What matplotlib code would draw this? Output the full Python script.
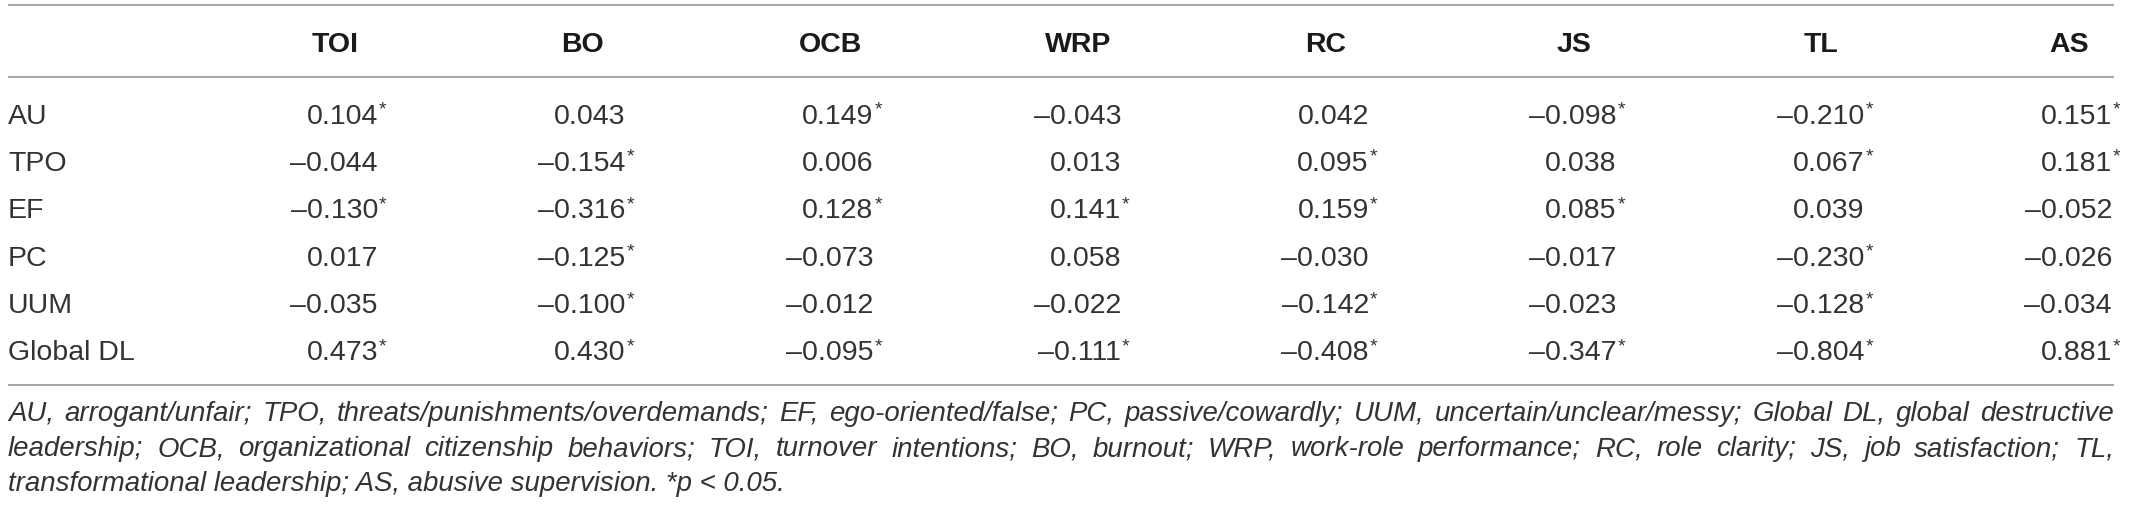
import matplotlib
matplotlib.use("Agg")
import matplotlib.pyplot as plt

# table content
col_labels = ["TOI", "BO", "OCB", "WRP", "RC", "JS", "TL", "AS"]
row_labels = ["AU", "TPO", "EF", "PC", "UUM", "Global DL"]

values = [
	[0.104, 0.043, 0.149, -0.043, 0.042, -0.098, -0.210, 0.151],
	[-0.044, -0.154, 0.006, 0.013, 0.095, 0.038, 0.067, 0.181],
	[-0.130, -0.316, 0.128, 0.141, 0.159, 0.085, 0.039, -0.052],
	[0.017, -0.125, -0.073, 0.058, -0.030, -0.017, -0.230, -0.026],
	[-0.035, -0.100, -0.012, -0.022, -0.142, -0.023, -0.128, -0.034],
	[0.473, 0.430, -0.095, -0.111, -0.408, -0.347, -0.804, 0.881],
]

significant = [
	[1, 0, 1, 0, 0, 1, 1, 1],
	[0, 1, 0, 0, 1, 0, 1, 1],
	[1, 1, 1, 1, 1, 1, 0, 0],
	[0, 1, 0, 0, 0, 0, 1, 0],
	[0, 1, 0, 0, 1, 0, 1, 0],
	[1, 1, 1, 1, 1, 1, 1, 1],
]

footnote_lines = [
	"AU, arrogant/unfair; TPO, threats/punishments/overdemands; EF, ego-oriented/false; PC, passive/cowardly; UUM, uncertain/unclear/messy; Global DL, global destructive",
	"leadership; OCB, organizational citizenship behaviors; TOI, turnover intentions; BO, burnout; WRP, work-role performance; RC, role clarity; JS, job satisfaction; TL,",
	"transformational leadership; AS, abusive supervision. *p < 0.05.",
]

W, H = 2129, 508
DPI = 100
text_color = "#333333"
rule_color = "#a8a8a8"
font = "Liberation Sans"

fig = plt.figure(figsize=(W / DPI, H / DPI), dpi=DPI)
ax = fig.add_axes([0, 0, 1, 1])
ax.set_xlim(0, W)
ax.set_ylim(H, 0)
ax.axis("off")

left = 8
right = 2114
first_num_right = 378
col_step = 247.7
row_top = 113
row_step = 47.4
cap = 21

# rules
for y in [5, 77, 385]:
	ax.plot([left, right], [y, y], color=rule_color, lw=1.5, solid_capstyle="butt")

# header
for j, lab in enumerate(col_labels):
	xc = first_num_right + j * col_step - 43
	ax.text(xc, 41 + cap / 2, lab, ha="center", va="baseline", fontsize=20.5,
		fontweight="bold", family=font, color="#1a1a1a")

# body
for i, lab in enumerate(row_labels):
	yc = row_top + i * row_step
	ax.text(left, yc + cap / 2, lab, ha="left", va="baseline", fontsize=20.5,
		family=font, color=text_color)
	for j in range(len(col_labels)):
		xr = first_num_right + j * col_step
		v = values[i][j]
		s = ("\u2013" if v < 0 else "") + "%.3f" % abs(v)
		ax.text(xr, yc + cap / 2, s, ha="right", va="baseline", fontsize=20.5,
			family=font, color=text_color)
		if significant[i][j]:
			ax.text(xr + 1, yc - cap / 2 - 1, "*", ha="left", va="top", fontsize=14,
				family=font, color=text_color)

# justified footnote
fig.canvas.draw()
renderer = fig.canvas.get_renderer()
inv = ax.transData.inverted()

def width_of(t):
	bb = t.get_window_extent(renderer=renderer)
	return inv.transform((bb.x1, 0))[0] - inv.transform((bb.x0, 0))[0]

# pick the footnote size so the first line nearly fills the width
probe = ax.text(0, 0, footnote_lines[0], fontsize=16, style="italic", family=font)
foot_fs = 16 * (right - left) / width_of(probe) * 0.985
probe.remove()

foot_y = [413, 448, 483]
for k, line in enumerate(footnote_lines):
	words = line.split(" ")
	base = foot_y[k] + 8
	if k == len(footnote_lines) - 1:
		ax.text(left, base, line, ha="left", va="baseline", fontsize=foot_fs,
			style="italic", family=font, color=text_color)
		continue
	arts = []
	widths = []
	for w in words:
		t = ax.text(0, base, w, ha="left", va="baseline", fontsize=foot_fs,
			style="italic", family=font, color=text_color)
		arts.append(t)
		widths.append(width_of(t))
	gap = (right - left - sum(widths)) / (len(words) - 1)
	x = left
	for t, wd in zip(arts, widths):
		t.set_x(x)
		x += wd + gap

fig.savefig("out.png", dpi=DPI, facecolor="white")
